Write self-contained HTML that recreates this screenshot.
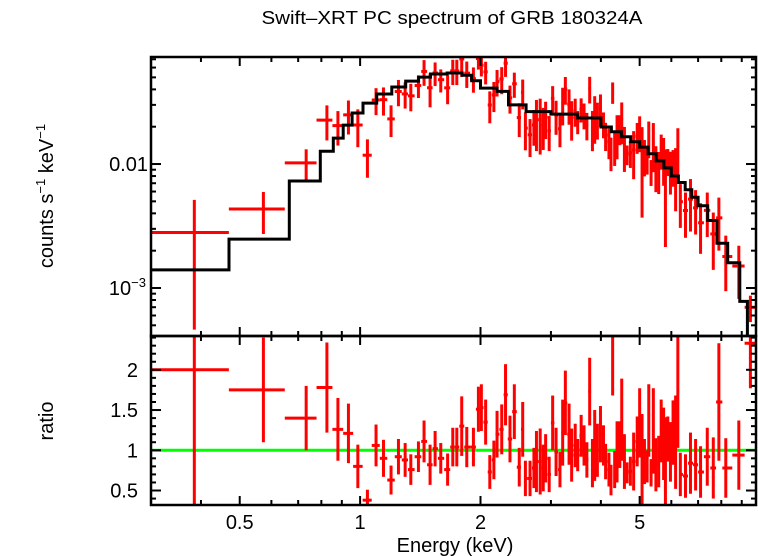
<!DOCTYPE html>
<html><head><meta charset="utf-8"><style>
html,body{margin:0;padding:0;background:#fff;}
svg{display:block;font-family:"Liberation Sans",sans-serif;}
</style></head><body>
<svg id="chart" width="758" height="556" viewBox="0 0 758 556" xmlns="http://www.w3.org/2000/svg">
<text x="452" y="24" font-size="18" text-anchor="middle" textLength="381" lengthAdjust="spacingAndGlyphs">Swift–XRT PC spectrum of GRB 180324A</text>
<text transform="translate(53,196) rotate(-90)" font-size="20" text-anchor="middle">counts s<tspan font-size="13" dy="-8">−1</tspan><tspan dy="8"> keV</tspan><tspan font-size="13" dy="-8">−1</tspan></text>
<text transform="translate(53,421) rotate(-90)" font-size="20" text-anchor="middle">ratio</text>
<text x="455" y="552" font-size="20" text-anchor="middle">Energy (keV)</text>
<g id="g-top"></g>
<g id="g-bot"></g>
</svg>
<script>
// ---- data ----
const modelEdges = [0.30,0.47,0.665,0.795,0.857,0.907,0.955,1.017,1.10,1.2,1.3,1.4,1.5,1.65,1.8,1.9,2.0,2.2,2.35,2.6,3.0,3.5,4.0,4.25,4.5,4.75,5.0,5.25,5.5,5.75,6.0,6.25,6.5,6.75,7.0,7.4,7.8,8.3,8.9,9.3,9.8];
const modelValues = [0.0014,0.00248,0.0073,0.0127,0.0162,0.0206,0.0258,0.031,0.0367,0.0418,0.0467,0.0503,0.0532,0.0542,0.052,0.047,0.041,0.0385,0.03,0.0265,0.0253,0.0235,0.0199,0.0182,0.0166,0.0151,0.0137,0.0121,0.0106,0.0093,0.008,0.0071,0.0062,0.0054,0.0046,0.0035,0.0023,0.0016,0.00078,0.0003];
const energies = [0.385,0.573,0.733,0.826,0.880,0.935,0.987,1.043,1.096,1.144,1.195,1.247,1.296,1.339,1.399,1.445,1.496,1.54,1.591,1.655,1.705,1.745,1.795,1.848,1.92,1.976,
2.01,2.06,2.11,2.16,2.20,2.26,2.31,2.37,2.43,2.50,2.55,2.59,2.66,2.72,2.76,2.82,2.87,2.91,2.97,3.03,3.09,3.16,3.21,3.26,3.33,3.38,3.45,3.50,3.57,3.63,3.69,3.75,3.81,3.86,3.92,3.99,4.06,4.11,4.19,4.24,4.28,4.33,4.39,4.46,4.51,4.58,4.65,4.74,4.83,4.93,5.00,5.07,5.14,5.22,5.27,5.34,5.41,5.49,5.58,5.66,5.74,5.80,5.88,5.97,6.06,6.15,6.23,6.32,6.51,6.70,6.90,7.10,7.38,7.64,7.89,8.21,8.85,9.46];
const ratios = [2.00,1.75,1.40,1.78,1.26,1.21,0.80,0.38,1.06,0.90,0.63,0.92,0.88,0.76,0.92,1.11,0.82,1.02,0.90,0.76,1.04,1.04,1.30,1.04,1.04,1.51,
1.53,1.35,0.73,0.88,1.20,1.26,1.69,1.14,1.48,0.79,1.26,0.65,0.65,0.78,0.86,0.86,0.78,0.90,0.70,1.34,0.98,0.76,1.22,1.59,1.20,0.94,1.06,0.94,1.18,1.06,0.88,1.73,0.84,1.06,1.00,1.20,1.06,0.86,0.76,0.63,2.09,0.76,0.98,1.07,1.38,0.86,0.72,0.74,0.86,1.11,1.34,0.86,0.86,0.80,1.37,0.72,1.24,0.82,0.86,1.24,1.08,0.82,1.14,0.98,1.22,1.10,1.73,0.70,0.68,0.84,0.82,0.73,0.92,0.78,1.60,0.78,0.94,2.33];
const ratioErrors = [1.67,0.65,0.40,0.56,0.39,0.37,0.27,0.13,0.26,0.23,0.18,0.22,0.21,0.19,0.19,0.26,0.25,0.22,0.19,0.20,0.24,0.24,0.37,0.25,0.24,0.28,
0.29,0.28,0.21,0.24,0.29,0.31,0.38,0.29,0.34,0.24,0.34,0.22,0.22,0.25,0.38,0.41,0.29,0.30,0.22,0.34,0.30,0.22,0.41,0.40,0.38,0.33,0.27,0.20,0.26,0.25,0.22,0.42,0.30,0.44,0.33,0.35,0.25,0.22,0.21,0.19,0.41,0.23,0.38,0.29,0.51,0.34,0.13,0.18,0.36,0.31,0.43,0.59,0.28,0.20,0.45,0.17,0.53,0.33,0.32,0.39,0.45,0.59,0.28,0.37,0.40,0.58,0.70,0.27,0.27,0.38,0.32,0.32,0.36,0.38,0.73,0.37,0.43,0.56];
const firstEdge = 0.30, lastEdge = 9.9;
const xTickLabels = [0.5,1,2,5];
const ratioTickLabels = [0.5,1,1.5,2];

// ---- axes ----
const L=151, R=756, T1=57, B1=336, T2=336, B2=505;
const xMin=0.30, xMax=9.77;
const yMin=4.1e-4, yMax=0.073;
const rMin=0.32, rMax=2.42;
const X=e=>L+(Math.log10(e)-Math.log10(xMin))/(Math.log10(xMax)-Math.log10(xMin))*(R-L);
const Y=f=>B1-(Math.log10(f)-Math.log10(yMin))/(Math.log10(yMax)-Math.log10(yMin))*(B1-T1);
const YR=r=>B2-(r-rMin)/(rMax-rMin)*(B2-T2);
const NS="http://www.w3.org/2000/svg";
const svg=document.getElementById('chart');
const gT=document.getElementById('g-top'), gB=document.getElementById('g-bot');
function mk(tag,attrs,parent){const el=document.createElementNS(NS,tag);for(const k in attrs)el.setAttribute(k,attrs[k]);parent.appendChild(el);return el;}
function modelAt(e){for(let i=0;i<modelValues.length;i++){if(e<modelEdges[i+1])return modelValues[i];}return modelValues[modelValues.length-1];}

const defs=mk('defs',{},svg);
const c1=mk('clipPath',{id:'clipT'},defs);mk('rect',{x:L,y:T1,width:R-L,height:B1-T1},c1);
const c2=mk('clipPath',{id:'clipB'},defs);mk('rect',{x:L,y:T2,width:R-L,height:B2-T2},c2);
const dT=mk('g',{'clip-path':'url(#clipT)'},gT);
const dB=mk('g',{'clip-path':'url(#clipB)'},gB);

const lo=[],hi=[];
for(let i=0;i<energies.length;i++){
  lo.push(i===0?firstEdge:Math.sqrt(energies[i-1]*energies[i]));
  hi.push(i===energies.length-1?lastEdge:Math.sqrt(energies[i]*energies[i+1]));
}

const gl=mk('line',{x1:L,x2:R,y1:YR(1),y2:YR(1),stroke:'#00ff00','stroke-width':3},dB);



for(let i=0;i<energies.length;i++){
  const m=modelAt(energies[i]);
  const f=ratios[i]*m, fe=ratioErrors[i]*m;
  const gp=mk('g',{stroke:'#ff0000','stroke-width':3},dT);
  
  
  const flo=Math.max(f-fe,1e-6);
  mk('line',{x1:X(lo[i]),x2:X(hi[i]),y1:Y(f),y2:Y(f)},gp);
  mk('line',{x1:X(energies[i]),x2:X(energies[i]),y1:Y(f+fe),y2:Y(flo)},gp);
  const gr=mk('g',{stroke:'#ff0000','stroke-width':3},dB);
  
  
  mk('line',{x1:X(lo[i]),x2:X(hi[i]),y1:YR(ratios[i]),y2:YR(ratios[i])},gr);
  mk('line',{x1:X(energies[i]),x2:X(energies[i]),y1:YR(ratios[i]+ratioErrors[i]),y2:YR(ratios[i]-ratioErrors[i])},gr);
}

let d='';
for(let i=0;i<modelValues.length;i++){
  const x0=X(modelEdges[i]),x1=X(modelEdges[i+1]),y=Y(modelValues[i]);
  d+=(i===0?'M':'L')+x0.toFixed(1)+','+y.toFixed(1)+'L'+x1.toFixed(1)+','+y.toFixed(1);
}
const mp=mk('path',{d:d,fill:'none',stroke:'#000','stroke-width':3},dT);



for(const [t,b,name] of [[T1,B1,'spectrum-frame'],[T2,B2,'ratio-frame']]){
  const fr=mk('rect',{x:L,y:t,width:R-L,height:b-t,fill:'none',stroke:'#000','stroke-width':2.5},svg);
  
  
}
const xt=mk('g',{stroke:'#000','stroke-width':2},svg);


const xMinor=[0.3,0.4,0.6,0.7,0.8,0.9,3,4,6,7,8,9], xMajor=[0.5,1,2,5];
for(const e of xMinor.concat(xMajor)){
  const len=xMajor.includes(e)?9:5, x=X(e);
  for(const [yy,dir] of [[T1,1],[B1,-1],[T2,1],[B2,-1]]) mk('line',{x1:x,x2:x,y1:yy,y2:yy+dir*len},xt);
}
for(const v of xTickLabels){
  const t=mk('text',{x:X(v),y:529,'font-size':20,'text-anchor':'middle'},svg);
  t.textContent=String(v);
  
  
}
const yt=mk('g',{stroke:'#000','stroke-width':2},svg);


for(const dec of [1e-4,1e-3,1e-2]){
  for(let k=1;k<10;k++){
    const v=dec*k; if(v<yMin||v>yMax)continue;
    const len=k===1?10:5, y=Y(v);
    mk('line',{x1:L,x2:L+len,y1:y,y2:y},yt);mk('line',{x1:R,x2:R-len,y1:y,y2:y},yt);
  }
}
const t1=mk('text',{x:148,y:Y(0.01)+7,'font-size':20,'text-anchor':'end'},svg);t1.textContent='0.01';


const t2=mk('text',{x:146,y:Y(0.001)+7,'font-size':20,'text-anchor':'end'},svg);
t2.innerHTML='10<tspan font-size="13" dy="-8">−3</tspan>';


for(let k=4;k<=24;k++){
  const v=k/10, major=(k%5===0), y=YR(v), len=major?10:5;
  mk('line',{x1:L,x2:L+len,y1:y,y2:y},yt);mk('line',{x1:R,x2:R-len,y1:y,y2:y},yt);
}
for(const v of ratioTickLabels){
  const t=mk('text',{x:138,y:YR(v)+7,'font-size':20,'text-anchor':'end'},svg);
  t.textContent=String(v);
  
  
}
</script>
</body></html>
